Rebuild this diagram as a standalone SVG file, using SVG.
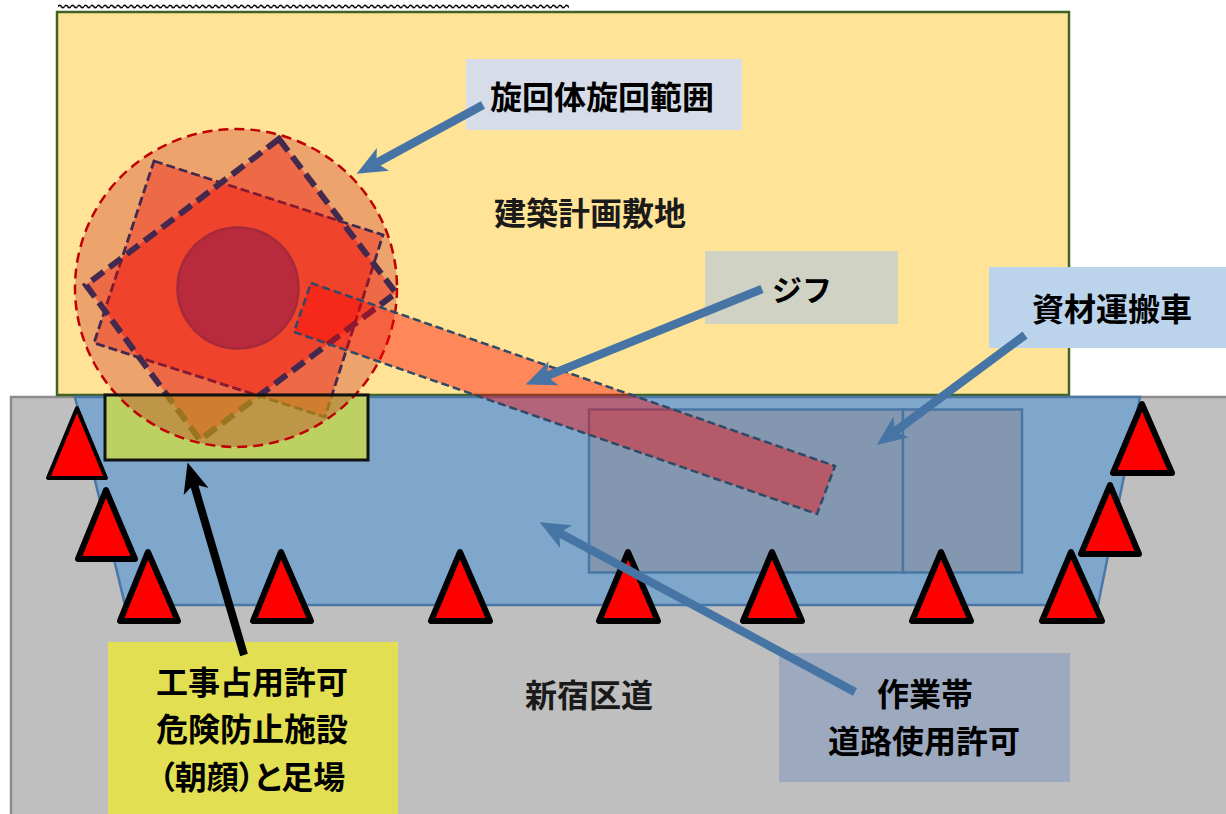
<svg xmlns="http://www.w3.org/2000/svg" width="1226" height="814" viewBox="0 0 1226 814">
<style>
.lb{font-family:"Noto Sans CJK JP","Liberation Sans",sans-serif;font-weight:700;font-size:32px;fill:#000;text-anchor:middle}
.sf{font-family:"Noto Sans CJK JP","Liberation Serif",serif;font-weight:700;font-size:32px;fill:#1a1a1a;text-anchor:middle}
.cone{fill:#f00;stroke:#000;stroke-width:6;stroke-linejoin:round}
.ar{fill:none;stroke:#4675a5;stroke-width:8.500;marker-end:url(#bh)}
.wz{fill:#8497b0;stroke:#4877a6;stroke-width:2.5}
</style>
<defs>
<marker id="bh" markerUnits="userSpaceOnUse" markerWidth="30" markerHeight="26" viewBox="0 0 28 24" refX="7" refY="12" orient="auto"><path d="M28 12L0 0L7 12L0 24Z" fill="#4675a5"/></marker>
<marker id="kh" markerUnits="userSpaceOnUse" markerWidth="30" markerHeight="26" viewBox="0 0 28 24" refX="7" refY="12" orient="auto"><path d="M28 12L0 0L7 12L0 24Z" fill="#000"/></marker>
<pattern id="wv" patternUnits="userSpaceOnUse" x="58" y="3" width="6.5" height="6"><path d="M0 3.500Q1.600 1 3.250 3.500T6.500 3.500" fill="none" stroke="#000" stroke-width="1.500"/></pattern>
<clipPath id="up"><rect x="0" y="0" width="1226" height="396"/></clipPath>
<clipPath id="lo"><rect x="0" y="396" width="1226" height="100"/></clipPath>
</defs>
<rect width="1226" height="814" fill="#fff"/>
<rect x="58" y="3" width="511" height="6" fill="url(#wv)"/>
<g id="road"><rect x="11" y="397" width="1230" height="430" fill="#bfbfbf" stroke="#8c8c8c" stroke-width="2.5"/></g>
<g id="site"><rect x="57" y="12" width="1012" height="383" fill="#ffe396" stroke="#3f6226" stroke-width="2.5"/></g>
<g id="workband"><path d="M75 397H1140L1098 605H125Z" fill="#7fa7cc" stroke="#4a77a5" stroke-width="2.5"/></g>
<g id="scaffold-fill"><rect x="105" y="395" width="263" height="65" fill="#bdd163"/></g>
<g id="truck"><rect class="wz" x="589" y="409.500" width="314" height="163"/><rect class="wz" x="903" y="409.500" width="119" height="163"/></g>
<g id="swing">
<ellipse cx="236" cy="288" rx="161" ry="159" fill="#c00000" fill-opacity=".28" stroke="#c00000" stroke-width="2.5" stroke-dasharray="10 6"/>
</g>
<g id="outriggers">
<g clip-path="url(#up)">
<path d="M154 161L383 235L325 417L94 343Z" fill="#f20000" fill-opacity=".36" stroke="#44294f" stroke-width="2.800" stroke-dasharray="9 4"/>
<path d="M279 139L396 293L200 440L86 285Z" fill="#f20000" fill-opacity=".36" stroke="#44294f" stroke-width="6" stroke-dasharray="15 7"/>
</g>
<g clip-path="url(#lo)">
<path d="M154 161L383 235L325 417L94 343Z" fill="#e16316" fill-opacity=".5" stroke="#9a7420" stroke-width="2.800" stroke-dasharray="9 4"/>
<path d="M279 139L396 293L200 440L86 285Z" fill="#e16316" fill-opacity=".5" stroke="#9a7420" stroke-width="6" stroke-dasharray="15 7"/>
</g>
</g>
<g id="jib"><path d="M311 283L835 466L817 514L294 332Z" fill="#f00" fill-opacity=".4" stroke="#2f4a66" stroke-width="2.500" stroke-dasharray="8 4"/></g>
<g id="slew"><circle cx="238" cy="288" r="60.500" fill="#b92b3c" stroke="#a52a3a" stroke-width="2.500"/></g>
<g id="scaffold"><rect x="105" y="395" width="263" height="65" fill="none" stroke="#111" stroke-width="3"/></g>
<g id="cones">
<path class="cone" style="stroke-width:4" d="M77 408L48 478H106Z"/>
<path class="cone" d="M106 490L78 559H135Z"/>
<path class="cone" d="M148 552L120 621H178Z"/>
<path class="cone" d="M281 552L253 621H311Z"/>
<path class="cone" d="M460 552L431 621H490Z"/>
<path class="cone" d="M628 552L599 621H658Z"/>
<path class="cone" d="M772 552L743 621H802Z"/>
<path class="cone" d="M941 552L912 621H971Z"/>
<path class="cone" d="M1071 552L1042 621H1102Z"/>
<path class="cone" d="M1110 485L1081 554H1139Z"/>
<path class="cone" d="M1142 404L1113 473H1172Z"/>
</g>
<g id="label-swing"><rect x="466" y="59" width="276" height="71" fill="#d6dce8"/></g>
<g id="label-jib"><rect x="705" y="251" width="193" height="73" fill="#d0d3c4"/></g>
<g id="label-truck"><rect x="989" y="267" width="237" height="81" fill="#bcd3ec"/></g>
<g id="label-permit"><rect x="108" y="642" width="290" height="172" fill="#e2e052"/></g>
<g id="label-band"><rect x="779" y="653" width="291" height="129" fill="#9da9bf"/></g>
<g id="connectors">
<path class="ar" d="M483 105L376.400 163"/>
<path class="ar" d="M762 289L546.500 376.100"/>
<path class="ar" d="M1025 335L894.900 431.500"/>
<path class="ar" d="M855 692L559.500 533"/>
<path d="M244 655L193.900 484.200" fill="none" stroke="#000" stroke-width="8" marker-end="url(#kh)"/>
</g>
<g id="texts">
<text class="lb" x="602" y="109">旋回体旋回範囲</text>
<text class="sf" x="590" y="225">建築計画敷地</text>
<text class="lb" style="font-size:30px" x="802" y="301">ジフ</text>
<text class="lb" x="1112" y="321">資材運搬車</text>
<text class="lb" x="252" y="694">工事占用許可</text><text class="lb" x="252" y="741">危険防止施設</text><text class="lb" style="font-feature-settings:'palt'" x="252" y="789">（朝顔）と足場</text>
<text class="sf" x="589" y="707">新宿区道</text>
<text class="lb" x="925" y="706">作業帯</text><text class="lb" x="924" y="753">道路使用許可</text>
</g>
</svg>
